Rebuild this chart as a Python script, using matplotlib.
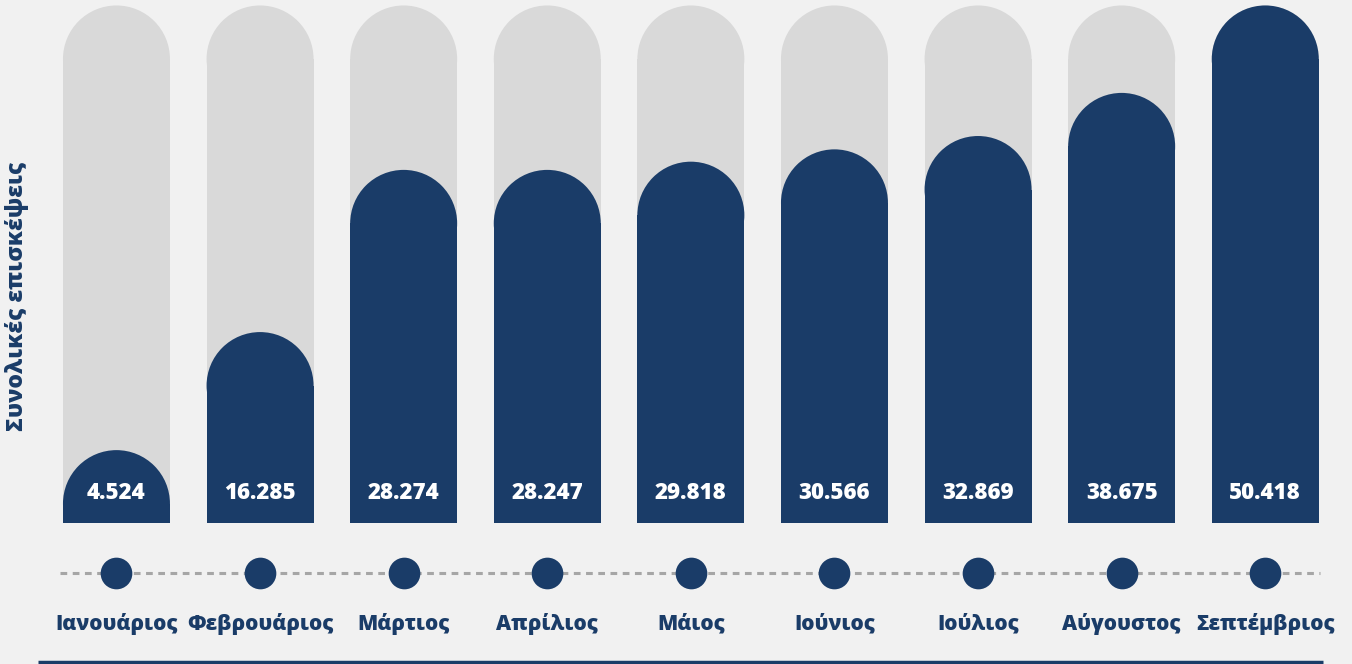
import matplotlib
matplotlib.use("Agg")
import matplotlib.pyplot as plt
from matplotlib.patches import Ellipse
from matplotlib.lines import Line2D

# ---- data ----
months = ["Ιανουάριος", "Φεβρουάριος", "Μάρτιος", "Απρίλιος", "Μάιος",
          "Ιούνιος", "Ιούλιος", "Αύγουστος", "Σεπτέμβριος"]
value_labels = ["4.524", "16.285", "28.274", "28.247", "29.818",
                "30.566", "32.869", "38.675", "50.418"]
# bar levels as drawn in the picture (thousands of visits)
bar_levels = [7.1, 18.6, 34.4, 34.4, 35.2, 36.4, 37.7, 41.9, 50.418]
y_label = "Συνολικές επισκέψεις"

NAVY = "#1a3c68"
GRAY = "#d9d9d9"
BG = "#f1f1f1"
FONT = ["Open Sans", "Noto Sans", "DejaVu Sans"]

W, H = 1352, 664
fig = plt.figure(figsize=(W / 100, H / 100), dpi=100, facecolor=BG)

base_px = 523          # pixel row of bar baseline (from top)
ax = fig.add_axes([0, (H - base_px) / H, 1, base_px / H])
ax.set_facecolor(BG)
ax.set_axis_off()

x = list(range(len(months)))
xlim = (-0.811, 8.604)
ylim = (0, 50.95)
ax.set_xlim(*xlim)
ax.set_ylim(*ylim)

bw = 0.745
px_x = W / (xlim[1] - xlim[0])
px_y = base_px / (ylim[1] - ylim[0])
r_px = bw / 2 * px_x
r_y = r_px / px_y

top = max(bar_levels)

def rounded_bar(xc, h, color, z):
    ax.bar(xc, h - r_y, width=bw, color=color, zorder=z, linewidth=0)
    ax.add_patch(Ellipse((xc, h - r_y), bw, 2 * r_y, facecolor=color,
                         edgecolor="none", zorder=z))

for xi, h in zip(x, bar_levels):
    rounded_bar(xi, top, GRAY, 1)
    rounded_bar(xi, h, NAVY, 2)

label_y = 30 / px_y
for xi, lab in zip(x, value_labels):
    ax.text(xi, label_y, lab, ha="center", va="center", color="white",
            fontsize=16, fontweight=800, family=FONT, zorder=3)

# ---- lower axis: timeline ----
low_h = H - base_px
ax2 = fig.add_axes([0, 0, 1, low_h / H])
ax2.set_axis_off()
ax2.set_xlim(*xlim)
ax2.set_ylim(0, low_h)

def px2x(p):
    return xlim[0] + p / px_x

line_y = H - 573
ax2.plot([px2x(60), px2x(1320)], [line_y, line_y], color="#a6a6a6",
         linewidth=2.2, linestyle=(0, (2.2, 1.8)), zorder=1)
ax2.scatter(x, [line_y] * len(x), s=520, color=NAVY, zorder=3,
            linewidths=0)

for xi, m in zip(x, months):
    ax2.text(xi, H - 624, m, ha="center", va="center", color=NAVY,
             fontsize=15, fontweight=800, family=FONT)

ax2.plot([px2x(38), px2x(1323)], [2.5, 2.5], color=NAVY,
         linewidth=2.5, solid_capstyle="butt", clip_on=False)

fig.text(17 / W, (H - 296) / H, y_label, rotation=90, ha="center",
         va="center", color=NAVY, fontsize=16.5, fontweight=800,
         family=FONT)

fig.savefig("out.png", dpi=100, facecolor=BG)
